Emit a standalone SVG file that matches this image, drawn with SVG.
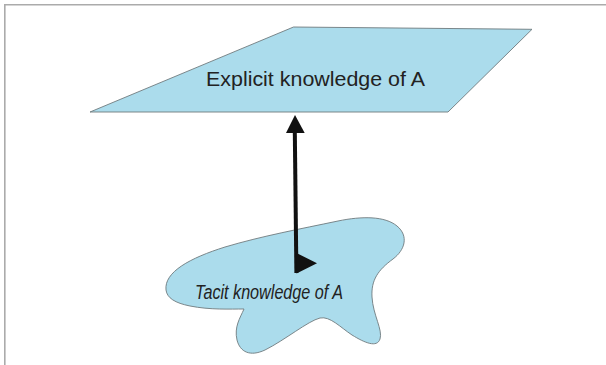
<svg xmlns="http://www.w3.org/2000/svg" width="606" height="365" viewBox="0 0 606 365">
  <style>
    .plane { fill: #abdcec; stroke: #6f7a7e; stroke-width: 0.9; stroke-linejoin: round; }
    .label { fill: #222; font-family: "Liberation Sans", Arial, sans-serif; font-size: 19.5px; }
    .tacit { font-style: italic; font-size: 20px; }
    .link { stroke: #111; stroke-width: 4; fill: none; }
    .head { fill: #111; }
    .frame { stroke: #ababab; stroke-width: 1.6; fill: none; }
  </style>

  <rect width="606" height="365" fill="#ffffff"/>
  <!-- page frame: top and left edges only -->
  <path class="frame" d="M 4.8,365 L 4.8,4.8 L 606,4.8"/>

  <g id="node-explicit">
    <polygon class="plane" points="293.5,27 532,29.3 448,112 90,112"/>
    <text class="label" x="206" y="86" textLength="219" lengthAdjust="spacingAndGlyphs">Explicit knowledge of A</text>
  </g>

  <g id="node-tacit">
    <path class="plane" d="M 166,290
      C 164,272 190,258 225,247
      C 262,236 300,229 338,221
      C 362,216 385,216 397,226
      C 409,236 405,250 393,259
      C 378,270 371,280 372,297
      C 373,315 383,330 380,339
      C 377,348 365,343 352,335
      C 340,327 330,316 320,318
      C 308,321 285,340 265,350
      C 250,357 240,352 237,340
      C 234,327 240,318 244,309
      C 230,309 210,310 190,306
      C 175,303 167,298 166,290 Z"/>
    <text class="label tacit" x="195" y="298.5" textLength="148" lengthAdjust="spacingAndGlyphs">Tacit knowledge of A</text>
  </g>

  <g id="connectors">
    <line class="link" x1="294.8" y1="131" x2="296.4" y2="273"/>
    <polygon class="head" points="295,115 304.7,133 286,133"/>
    <polygon class="head" points="296.5,253 317,263.3 296.5,273.5"/>
  </g>
</svg>
